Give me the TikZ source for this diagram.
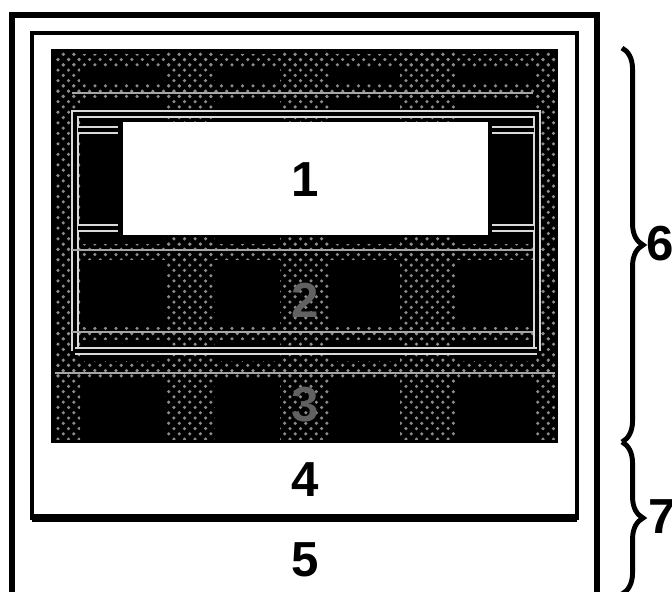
\documentclass[tikz,border=0pt]{standalone}
\usepackage{fontspec}
\setmainfont{Liberation Sans}
\usetikzlibrary{patterns,decorations.pathreplacing}

\tikzset{
  lbl/.style={font=\fontsize{14}{16}\selectfont\bfseries},
  dimlbl/.style={lbl, text=black!62},
  band/.style={pattern=crosshatch dots, pattern color=white!55!black},
  wline/.style={draw=white!85!black, double=black, double distance=1.4pt, line width=0.5pt},
  thinw/.style={draw=white!65!black, line width=0.5pt},
  bracket/.style={line width=1.4pt, decorate, decoration={brace, amplitude=6pt}}
}

\begin{document}
\begin{tikzpicture}[y=-1cm]

        \useasboundingbox (0,0) rectangle (6.72,5.92);

        % Gehaeuse
        \draw[line width=1.6pt] (0.12,5.92) -- (0.12,0.15) -- (5.97,0.15) -- (5.97,5.92);
        \draw[line width=1pt] (0.32,0.33) rectangle (5.77,5.18);
        \draw[line width=2.2pt] (0.32,5.18) -- (5.77,5.18);

        % dunkle Flaeche
        \fill[black] (0.51,0.49) rectangle (5.58,4.43);
        \foreach \xa/\xb in {0.55/0.80, 1.65/2.15, 2.80/3.30, 4.00/4.55, 5.35/5.55}
          \fill[band] (\xa,0.52) rectangle (\xb,4.40);
        \foreach \ya/\yb in {0.55/0.68, 0.85/1.00, 2.45/2.60, 3.28/3.40, 3.62/3.78}
          \fill[band] (0.55,\ya) rectangle (5.55,\yb);

        % Linien im Raster
        \draw[wline] (0.75,3.51) -- (0.75,1.14) -- (5.37,1.14) -- (5.37,3.51);
        \draw[wline] (0.75,3.51) -- (5.37,3.51);
        \draw[thinw] (0.55,3.73) -- (5.55,3.73);
        \draw[thinw] (0.72,3.32) -- (5.33,3.32);
        \draw[thinw] (0.72,2.50) -- (5.33,2.50);
        \draw[thinw] (0.72,0.93) -- (5.33,0.93);
        \foreach \yy in {1.30, 2.28} {
          \draw[wline] (0.78,\yy) -- (1.18,\yy);
          \draw[wline] (4.92,\yy) -- (5.34,\yy);
        }

        % Fenster
        \fill[white] (1.23,1.22) rectangle (4.88,2.35);

        % Beschriftung
        \node[lbl] at (3.05,1.80) (one) {1};
        \node[dimlbl] at (3.05,3.00) (two) {2};
        \node[dimlbl] at (3.05,4.05) (three) {3};
        \node[lbl] at (3.05,4.80) (four) {4};
        \node[lbl] at (3.05,5.60) (five) {5};

        % Klammern
        \coordinate (b6top) at (6.22,0.48);
        \coordinate (b6bot) at (6.22,4.42);
        \coordinate (b7bot) at (6.22,5.94);
        \draw[bracket] (b6top) -- (b6bot);
        \draw[bracket] (b6bot) -- (b7bot);
        \node[lbl, anchor=west, inner sep=0pt] at (6.46,2.44) (six) {6};
        \node[lbl, anchor=west, inner sep=0pt] at (6.48,5.17) (seven) {7};

    \end{tikzpicture}
\end{document}
